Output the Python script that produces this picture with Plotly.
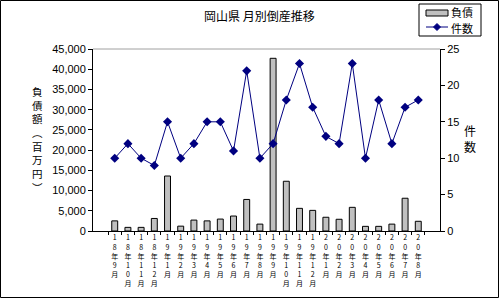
import plotly.graph_objects as go

months = ["18年9月", "18年10月", "18年11月", "18年12月",
          "19年1月", "19年2月", "19年3月", "19年4月", "19年5月", "19年6月",
          "19年7月", "19年8月", "19年9月", "19年10月", "19年11月", "19年12月",
          "20年1月", "20年2月", "20年3月", "20年4月", "20年5月", "20年6月",
          "20年7月", "20年8月"]
debt = [2500, 900, 900, 3100, 13600, 1200, 2700, 2500, 2950, 3700, 7800, 1700,
        42700, 12300, 5600, 5100, 3400, 2900, 5850, 1150, 1150, 1700, 8100, 2400]
count = [10, 12, 10, 9, 15, 10, 12, 15, 15, 11, 22, 10,
         12, 18, 23, 17, 13, 12, 23, 10, 18, 12, 17, 18]
left_ticks = [0, 5000, 10000, 15000, 20000, 25000, 30000, 35000, 40000, 45000]
right_ticks = [0, 5, 10, 15, 20, 25]

tick_text = ["<br>".join(list(m)) for m in months]

W, H = 500, 300
L, R, T, B = 93, 440, 49, 231
pw, ph = R - L, B - T

def px(x):
    return (x - L) / pw

def py(y):
    return (B - y) / ph

font_main = "Liberation Sans, Noto Sans CJK JP, sans-serif"
font_cjk = "Noto Sans CJK JP, sans-serif"
navy = "#000080"

fig = go.Figure()
fig.add_trace(go.Bar(
    x=months, y=debt, name="負債",
    marker=dict(color="#c0c0c0", line=dict(color="black", width=1)),
    yaxis="y",
))
fig.add_trace(go.Scatter(
    x=months, y=count, name="件数", mode="lines+markers",
    line=dict(color=navy, width=1),
    marker=dict(symbol="diamond", size=7, color=navy),
    yaxis="y2",
))

# legend drawn as shapes (pixel -> paper)
lx0, lx1, ly0, ly1 = 419, 481, 4, 36
diamond_cx, diamond_cy, d = 437, 27, 3.5
diamond_path = "M {} {} L {} {} L {} {} L {} {} Z".format(
    px(diamond_cx), py(diamond_cy - d), px(diamond_cx + d), py(diamond_cy),
    px(diamond_cx), py(diamond_cy + d), px(diamond_cx - d), py(diamond_cy))

fig.update_layout(
    width=W, height=H,
    margin=dict(l=L, r=W - R, t=T, b=H - B),
    paper_bgcolor="white", plot_bgcolor="white",
    bargap=0.55,
    showlegend=False,
    xaxis=dict(
        type="category", tickmode="array", tickvals=months, ticktext=tick_text,
        showline=True, linecolor="black", linewidth=1,
        ticks="outside", tickson="boundaries", ticklen=3, tickcolor="black",
        tickangle=0,
        tickfont=dict(family=font_cjk, size=7, color="black"),
        showgrid=False, zeroline=False,
    ),
    yaxis=dict(
        range=[0, 45000], tickmode="array", tickvals=left_ticks,
        ticktext=[f"{v:,}" for v in left_ticks],
        showline=True, linecolor="black", linewidth=1,
        ticks="outside", ticklen=4, tickcolor="black",
        tickfont=dict(family=font_main, size=11, color="black"),
        showgrid=False, zeroline=False,
    ),
    yaxis2=dict(
        range=[0, 25], tickmode="array", tickvals=right_ticks,
        ticktext=[str(v) for v in right_ticks],
        overlaying="y", side="right",
        showline=True, linecolor="black", linewidth=1,
        ticks="outside", ticklen=4, tickcolor="black",
        tickfont=dict(family=font_main, size=11, color="black"),
        showgrid=False, zeroline=False,
    ),
    shapes=[
        dict(type="line", xref="paper", yref="paper", x0=0, x1=1, y0=1, y1=1,
             line=dict(color="#a0a0a0", width=1)),
        dict(type="rect", xref="paper", yref="paper",
             x0=px(0.5), x1=px(498.5), y0=py(0.5), y1=py(297.5),
             line=dict(color="black", width=1)),
        dict(type="rect", xref="paper", yref="paper",
             x0=px(lx0), x1=px(lx1), y0=py(ly0), y1=py(ly1),
             line=dict(color="black", width=1), fillcolor="white"),
        dict(type="rect", xref="paper", yref="paper",
             x0=px(426), x1=px(448), y0=py(10), y1=py(16),
             line=dict(color="black", width=1), fillcolor="#c0c0c0"),
        dict(type="line", xref="paper", yref="paper",
             x0=px(426), x1=px(448), y0=py(27), y1=py(27),
             line=dict(color=navy, width=1)),
        dict(type="path", xref="paper", yref="paper", path=diamond_path,
             line=dict(color=navy, width=1), fillcolor=navy),
    ],
    annotations=[
        dict(text="岡山県 月別倒産推移", xref="paper", yref="paper",
             x=px(259), y=py(16), xanchor="center", yanchor="middle",
             showarrow=False, font=dict(family=font_cjk, size=12, color="black")),
        dict(text="<br>".join(list("負債額︵百万円︶")), xref="paper", yref="paper",
             x=px(37), y=py(139), xanchor="center", yanchor="middle",
             showarrow=False, font=dict(family=font_cjk, size=10.5, color="black")),
        dict(text="<br>".join(list("件数")), xref="paper", yref="paper",
             x=px(470), y=py(138), xanchor="center", yanchor="middle",
             showarrow=False, font=dict(family=font_cjk, size=12, color="black")),
        dict(text="負債", xref="paper", yref="paper",
             x=px(449), y=py(12), xanchor="left", yanchor="middle",
             showarrow=False, font=dict(family=font_cjk, size=11, color="black")),
        dict(text="件数", xref="paper", yref="paper",
             x=px(449), y=py(28), xanchor="left", yanchor="middle",
             showarrow=False, font=dict(family=font_cjk, size=11, color="black")),
    ],
)

fig.write_html("out.html")
